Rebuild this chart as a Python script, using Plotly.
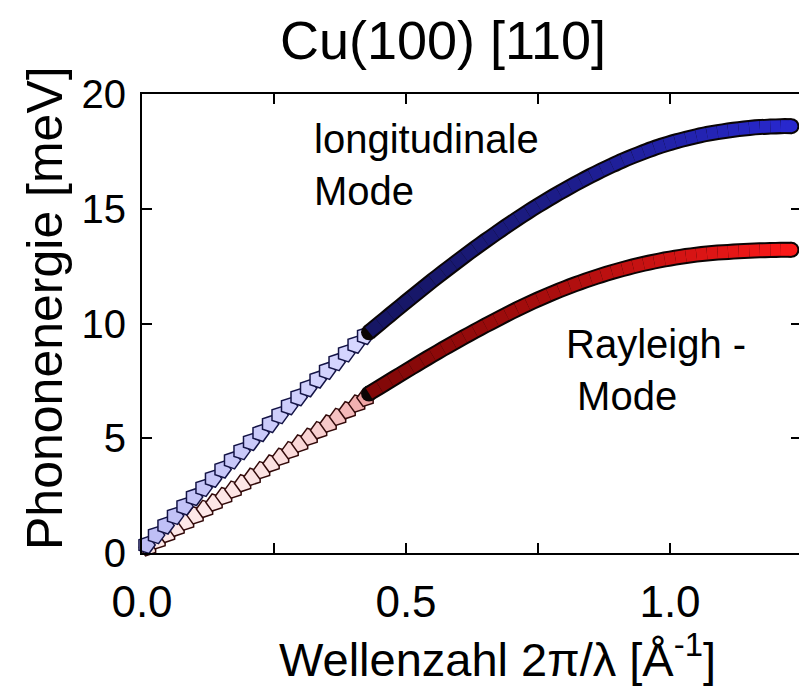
import plotly.graph_objects as go

# ---------------- data ----------------
# longitudinal mode, light (open) points
long_light_q = [0.008, 0.026, 0.044, 0.062, 0.080, 0.098, 0.116, 0.134, 0.152, 0.170, 0.188, 0.206,
                0.224, 0.242, 0.260, 0.278, 0.296, 0.314, 0.332, 0.350, 0.368, 0.386, 0.404, 0.422]
long_light_E = [0.35, 0.78, 1.20, 1.62, 2.03, 2.44, 2.84, 3.24, 3.64, 4.04, 4.44, 4.84,
                5.23, 5.62, 6.01, 6.40, 6.79, 7.18, 7.56, 7.94, 8.32, 8.70, 9.08, 9.46]

# Rayleigh mode, light (open) points
ray_light_q = [0.012, 0.030, 0.048, 0.066, 0.084, 0.102, 0.120, 0.138, 0.156, 0.174, 0.192, 0.210,
               0.228, 0.246, 0.264, 0.282, 0.300, 0.318, 0.336, 0.354, 0.372, 0.390, 0.408, 0.424]
ray_light_E = [0.25, 0.55, 0.83, 1.10, 1.37, 1.64, 1.92, 2.20, 2.48, 2.76, 3.04, 3.32,
               3.61, 3.90, 4.19, 4.48, 4.77, 5.06, 5.35, 5.64, 5.93, 6.22, 6.51, 6.76]

# dense (calculated) part, common q grid
dense_q = [0.43, 0.45, 0.47, 0.49, 0.51, 0.53, 0.55, 0.57, 0.59, 0.61, 0.63, 0.65, 0.67, 0.69,
           0.71, 0.73, 0.75, 0.77, 0.79, 0.81, 0.83, 0.85, 0.87, 0.89, 0.91, 0.93, 0.95, 0.97,
           0.99, 1.01, 1.03, 1.05, 1.07, 1.09, 1.11, 1.13, 1.15, 1.17, 1.19, 1.21, 1.23]
long_dense_E = [9.62, 10.00, 10.38, 10.76, 11.13, 11.50, 11.87, 12.23, 12.58, 12.93, 13.27, 13.60,
                13.92, 14.24, 14.55, 14.85, 15.14, 15.42, 15.69, 15.95, 16.20, 16.44, 16.67, 16.89,
                17.10, 17.29, 17.47, 17.64, 17.79, 17.93, 18.05, 18.16, 18.26, 18.34, 18.41, 18.47,
                18.52, 18.56, 18.58, 18.60, 18.60]
ray_dense_E = [6.95, 7.23, 7.51, 7.79, 8.07, 8.35, 8.62, 8.89, 9.15, 9.41, 9.66, 9.91,
               10.15, 10.39, 10.62, 10.84, 11.05, 11.25, 11.44, 11.62, 11.79, 11.95, 12.10, 12.24,
               12.37, 12.49, 12.60, 12.70, 12.79, 12.87, 12.94, 13.00, 13.05, 13.09, 13.12, 13.15,
               13.17, 13.19, 13.20, 13.21, 13.21]

x_tickvals = [0.0, 0.5, 1.0]
x_ticktext = ["0.0", "0.5", "1.0"]
x_minor_step = 0.25
y_tickvals = [0, 5, 10, 15, 20]
y_ticktext = ["0", "5", "10", "15", "20"]

title_text = "Cu(100) [110]"
x_title = "Wellenzahl 2π/λ [Å<sup>-1</sup>]"
y_title = "Phononenergie [meV]"
label_long = "longitudinale<br>Mode"
label_ray = "Rayleigh -<br> Mode"

# ---------------- figure ----------------
FONT = "Liberation Sans, Arial, sans-serif"
W, H = 799, 687
L, R, T, B = 142, 0, 94, 134
PW, PH = W - L - R, H - T - B
XMAX = PW / 528.0

fig = go.Figure()


def lerp(c1, c2, t):
    return "rgb(%d,%d,%d)" % tuple(round(a + (b - a) * t) for a, b in zip(c1, c2))


n = len(dense_q)

# light markers (Rayleigh first, longitudinal on top)
fig.add_trace(go.Scatter(
    x=ray_light_q, y=ray_light_E, mode="markers", cliponaxis=False,
    marker=dict(symbol="pentagon", angle=-90, size=18,
                color=[lerp((253, 232, 232), (240, 165, 165), (i / (len(ray_light_q) - 1)) ** 4)
                       for i in range(len(ray_light_q))],
                line=dict(color="rgb(50,10,10)", width=1.5)),
    showlegend=False, hoverinfo="skip"))
fig.add_trace(go.Scatter(
    x=long_light_q, y=long_light_E, mode="markers", cliponaxis=False,
    marker=dict(symbol="pentagon", angle=90, size=18,
                color=[lerp((190, 190, 245), (215, 215, 255), i / (len(long_light_q) - 1))
                       for i in range(len(long_light_q))],
                line=dict(color="rgb(20,20,70)", width=1.5)),
    showlegend=False, hoverinfo="skip"))

# dense bands: black outline underlay, then colour gradient segments
for E, c_lo, c_hi in [(ray_dense_E, (130, 8, 8), (250, 25, 25)),
                      (long_dense_E, (22, 22, 100), (40, 40, 205))]:
    fig.add_trace(go.Scatter(
        x=dense_q, y=E, mode="lines", cliponaxis=False,
        line=dict(color="rgb(10,5,5)", width=16, shape="spline", smoothing=0.6),
        showlegend=False, hoverinfo="skip"))
    fig.add_trace(go.Scatter(
        x=[dense_q[0], dense_q[-1]], y=[E[0], E[-1]], mode="markers", cliponaxis=False,
        marker=dict(symbol="circle", size=16, color="rgb(10,5,5)"),
        showlegend=False, hoverinfo="skip"))
    for i in range(n - 1):
        t = (i / (n - 2)) ** 1.3
        fig.add_trace(go.Scatter(
            x=dense_q[i:i + 2], y=E[i:i + 2], mode="lines", cliponaxis=False,
            line=dict(color=lerp(c_lo, c_hi, t), width=12),
            showlegend=False, hoverinfo="skip"))
    fig.add_trace(go.Scatter(
        x=[dense_q[-1]], y=[E[-1]], mode="markers", cliponaxis=False,
        marker=dict(symbol="circle", size=12, color=lerp(c_lo, c_hi, 1.0)),
        showlegend=False, hoverinfo="skip"))

# invisible trace for right-hand tick axis
fig.add_trace(go.Scatter(x=[0], y=[0], yaxis="y2", mode="markers",
                         marker=dict(opacity=0), showlegend=False, hoverinfo="skip"))

fig.update_layout(
    width=W, height=H,
    margin=dict(l=L, r=R, t=T, b=B, pad=0),
    paper_bgcolor="white", plot_bgcolor="white",
    font=dict(family=FONT, color="black"),
    title=dict(text=title_text, x=443 / W, xref="container", xanchor="center",
               y=1 - 40 / H, yref="container", yanchor="middle",
               font=dict(family=FONT, size=54, color="black")),
    xaxis=dict(range=[0, XMAX], showgrid=False, zeroline=False,
               showline=True, linecolor="black", linewidth=2, mirror="ticks",
               ticks="inside", ticklen=10, tickwidth=2, tickcolor="black",
               tickvals=x_tickvals, ticktext=x_ticktext,
               minor=dict(ticks="inside", ticklen=10, tickwidth=2, tickcolor="black",
                          tick0=0, dtick=x_minor_step, showgrid=False),
               tickfont=dict(family=FONT, size=44, color="black"),
               ticklabelstandoff=9),
    yaxis=dict(range=[0, 20], showgrid=False, zeroline=False,
               showline=True, linecolor="black", linewidth=2, mirror=False,
               ticks="inside", ticklen=10, tickwidth=2, tickcolor="black",
               tickvals=y_tickvals, ticktext=y_ticktext,
               tickfont=dict(family=FONT, size=40, color="black"),
               ticklabelstandoff=6),
    yaxis2=dict(range=[0, 20], overlaying="y", side="right", showgrid=False,
                zeroline=False, showline=False, ticks="inside", ticklen=8,
                tickwidth=2, tickcolor="black", tickvals=y_tickvals,
                showticklabels=False),
    annotations=[
        dict(text=x_title, x=(497 - L) / PW, y=(H - B - 656) / PH,
             xref="paper", yref="paper",
             xanchor="center", yanchor="middle", showarrow=False,
             font=dict(family=FONT, size=47, color="black")),
        dict(text=y_title, x=(45 - L) / PW, y=(H - B - 308) / PH,
             xref="paper", yref="paper",
             textangle=-90, xanchor="center", yanchor="middle", showarrow=False,
             font=dict(family=FONT, size=50, color="black")),
        dict(text=label_long, x=0.322, y=16.9, xref="x", yref="y",
             xanchor="left", yanchor="middle", align="left", showarrow=False,
             font=dict(family=FONT, size=40, color="black")),
        dict(text=label_ray, x=0.80, y=7.97, xref="x", yref="y",
             xanchor="left", yanchor="middle", align="left", showarrow=False,
             font=dict(family=FONT, size=40, color="black")),
    ],
)

fig.write_html("out.html", config={"displayModeBar": False},
               post_script="document.body.style.margin='0px';document.body.style.padding='0px';")
